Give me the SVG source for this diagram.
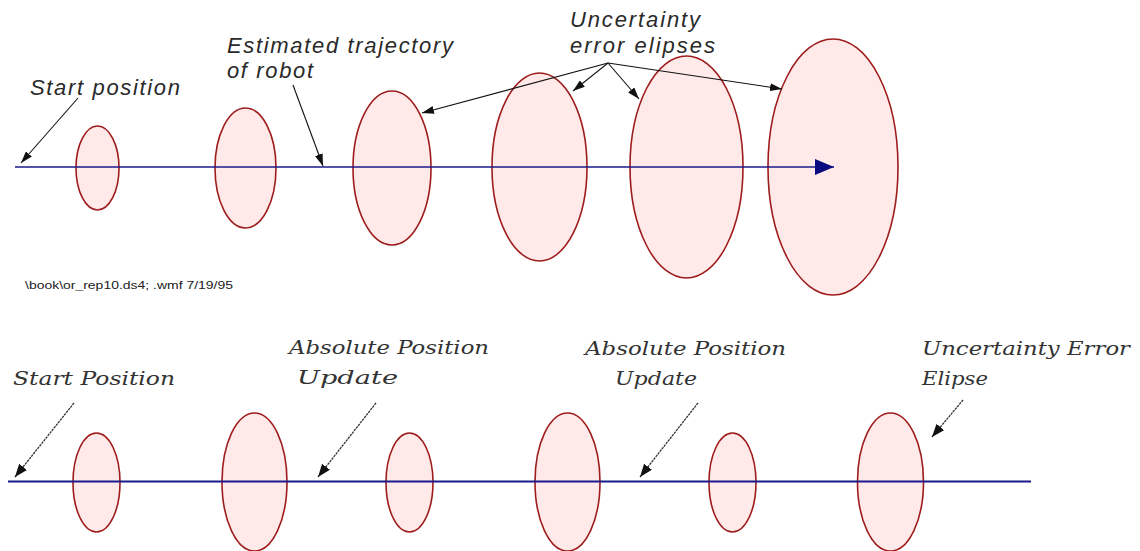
<svg xmlns="http://www.w3.org/2000/svg" width="1140" height="551" viewBox="0 0 1140 551">
<style>
.ell{fill:#FFE9E9;stroke:#9E1C1C;stroke-width:1.6}
.traj{stroke:#1A1A8C;stroke-width:1.5;fill:none}
.ptr{stroke:#111;stroke-width:1.1;fill:none}
.ptr2{stroke:#333;stroke-width:1.3;fill:none;stroke-dasharray:2.5 0.8}
.lt{font-family:"Liberation Sans",Arial,sans-serif;font-style:italic;font-size:22px;fill:#2a2a2a}
.lb{font-family:"DejaVu Serif","Liberation Serif",serif;font-style:italic;font-size:18px;fill:#333}
.fn{font-family:"Liberation Sans",Arial,sans-serif;font-size:10px;fill:#222}
</style>
<defs>
<marker id="ah" markerUnits="userSpaceOnUse" markerWidth="12" markerHeight="8" refX="12" refY="4" orient="auto"><path d="M0,0 L12,4 L0,8 z" fill="#111"/></marker>
<marker id="ah2" markerUnits="userSpaceOnUse" markerWidth="13" markerHeight="10" refX="13" refY="5" orient="auto"><path d="M0,0 L13,5 L0,10 z" fill="#111"/></marker>
<marker id="nav" markerUnits="userSpaceOnUse" markerWidth="19" markerHeight="16" refX="19" refY="8" orient="auto"><path d="M0,0 L19,8 L0,16 z" fill="#0A0A80"/></marker>
</defs>
<rect width="1140" height="551" fill="#fff"/>

<g id="top-ellipses">
<g id="te1"><ellipse class="ell" cx="97.5" cy="168" rx="21.5" ry="42"/></g>
<g id="te2"><ellipse class="ell" cx="245.5" cy="168" rx="30.5" ry="60"/></g>
<g id="te3"><ellipse class="ell" cx="392" cy="168" rx="39" ry="77"/></g>
<g id="te4"><ellipse class="ell" cx="539.5" cy="167" rx="47.5" ry="94"/></g>
<g id="te5"><ellipse class="ell" cx="686.5" cy="167" rx="56.5" ry="111"/></g>
<g id="te6"><ellipse class="ell" cx="833" cy="167" rx="65" ry="128"/></g>
</g>

<g id="bottom-ellipses">
<g id="be1"><ellipse class="ell" cx="96.5" cy="482.5" rx="23.5" ry="49.5"/></g>
<g id="be2"><ellipse class="ell" cx="254.5" cy="482" rx="32.5" ry="69"/></g>
<g id="be3"><ellipse class="ell" cx="409.5" cy="482.5" rx="23.5" ry="49.5"/></g>
<g id="be4"><ellipse class="ell" cx="567.5" cy="482" rx="32.5" ry="69"/></g>
<g id="be5"><ellipse class="ell" cx="732.5" cy="482.5" rx="23.5" ry="49.5"/></g>
<g id="be6"><ellipse class="ell" cx="890.5" cy="482" rx="33" ry="69"/></g>
</g>

<g id="connectors">
<line class="traj" x1="15" y1="167" x2="834" y2="167" marker-end="url(#nav)"/>
<line class="traj" x1="8" y1="481.5" x2="1031" y2="481.5" style="stroke-width:1.8"/>
<line class="ptr" x1="78" y1="98" x2="21" y2="163" marker-end="url(#ah)"/>
<line class="ptr" x1="293" y1="85" x2="323" y2="166" marker-end="url(#ah)"/>
<line class="ptr" x1="608" y1="63" x2="422" y2="113" marker-end="url(#ah)"/>
<line class="ptr" x1="608" y1="63" x2="573" y2="91" marker-end="url(#ah)"/>
<line class="ptr" x1="608" y1="63" x2="639" y2="99" marker-end="url(#ah)"/>
<line class="ptr" x1="608" y1="63" x2="782" y2="89" marker-end="url(#ah)"/>
<line class="ptr2" x1="74" y1="403" x2="15" y2="477" marker-end="url(#ah2)"/>
<line class="ptr2" x1="376" y1="403" x2="318" y2="477" marker-end="url(#ah2)"/>
<line class="ptr2" x1="698" y1="403" x2="640" y2="477" marker-end="url(#ah2)"/>
<line class="ptr2" x1="963" y1="400" x2="932" y2="437" marker-end="url(#ah2)"/>
</g>

<g id="label-start-top"><text class="lt" x="30" y="95" textLength="150" lengthAdjust="spacing">Start position</text></g>
<g id="label-trajectory">
<text class="lt" x="227" y="53" textLength="226" lengthAdjust="spacing">Estimated trajectory</text>
<text class="lt" x="227" y="78" textLength="86" lengthAdjust="spacing">of robot</text>
</g>
<g id="label-uncertainty-top">
<text class="lt" x="570" y="27" textLength="130" lengthAdjust="spacing">Uncertainty</text>
<text class="lt" x="570" y="53" textLength="145" lengthAdjust="spacing">error elipses</text>
</g>
<g id="footnote"><text class="fn" x="25" y="289" textLength="208" lengthAdjust="spacingAndGlyphs">\book\or_rep10.ds4; .wmf  7/19/95</text></g>

<g id="label-start-bottom"><text class="lb" x="13" y="385" textLength="162" lengthAdjust="spacingAndGlyphs">Start Position</text></g>
<g id="label-update1">
<text class="lb" x="289" y="354" textLength="200" lengthAdjust="spacingAndGlyphs">Absolute Position</text>
<text class="lb" x="297" y="384" textLength="101" lengthAdjust="spacingAndGlyphs">Update</text>
</g>
<g id="label-update2">
<text class="lb" x="585" y="355" textLength="201" lengthAdjust="spacingAndGlyphs">Absolute Position</text>
<text class="lb" x="615" y="385" textLength="82" lengthAdjust="spacingAndGlyphs">Update</text>
</g>
<g id="label-uncertainty-bottom">
<text class="lb" x="922" y="355" textLength="208" lengthAdjust="spacingAndGlyphs">Uncertainty Error</text>
<text class="lb" x="922" y="385" textLength="66" lengthAdjust="spacingAndGlyphs">Elipse</text>
</g>
</svg>
